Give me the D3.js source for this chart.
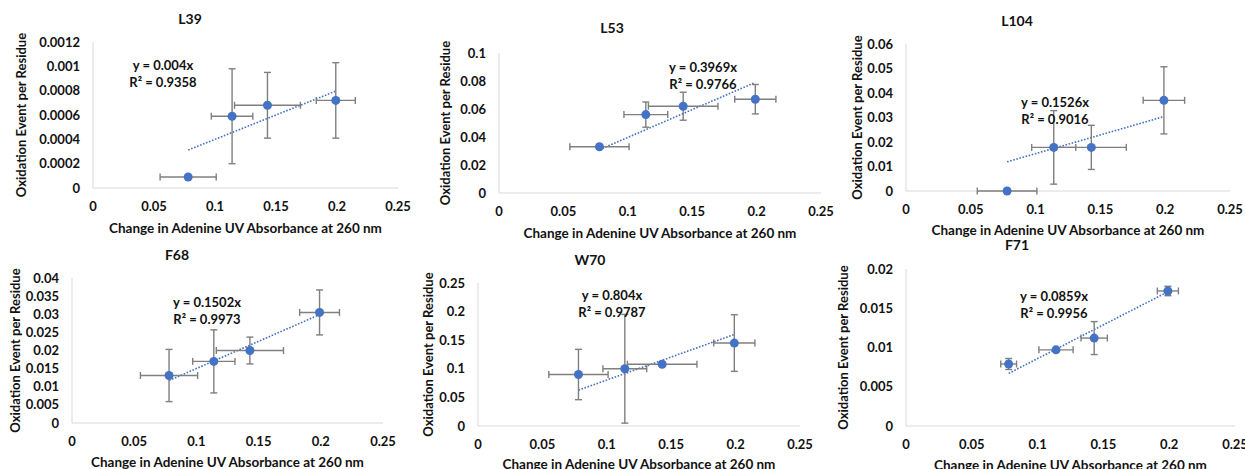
<!DOCTYPE html>
<html>
<head>
<meta charset="utf-8">
<script src="https://cdn.jsdelivr.net/npm/d3@7"></script>
<style>
  body { margin: 0; background: #fff; }
  svg text { font-family: Lato, "Open Sans", sans-serif; font-weight: bold; fill: #111; }
</style>
</head>
<body>
<svg id="chart" width="1245" height="469"></svg>
<script>
// shared x data (adenine UV absorbance change)
const xVals = [0.078, 0.114, 0.143, 0.199];
const xErr = [0.023, 0.017, 0.027, 0.016];
const xErrF71 = [0.006, 0.013, 0.010, 0.008];
const xTicks = [0, 0.05, 0.1, 0.15, 0.2, 0.25];

const titles = ['L39', 'L53', 'L104', 'F68', 'W70', 'F71'];

const yL39 = [0.00009, 0.00059, 0.00068, 0.00072];
const eL39 = [0, 0.00039, 0.00027, 0.00031];
const yL53 = [0.033, 0.056, 0.062, 0.067];
const eL53 = [0.001, 0.009, 0.010, 0.0105];
const yL104 = [0, 0.0178, 0.0178, 0.037];
const eL104 = [0, 0.015, 0.009, 0.0137];
const yF68 = [0.0131, 0.0170, 0.0200, 0.0305];
const eF68 = [0.0072, 0.0087, 0.0037, 0.0062];
const yW70 = [0.090, 0.100, 0.108, 0.145];
const eW70 = [0.044, 0.095, 0.003, 0.0495];
const yF71 = [0.0079, 0.0097, 0.0112, 0.0172];
const eF71 = [0.0007, 0.0002, 0.0021, 0.0006];

const slopes = [0.004, 0.3969, 0.1526, 0.1502, 0.804, 0.0859];
const r2Vals = ['0.9358', '0.9766', '0.9016', '0.9973', '0.9787', '0.9956'];
const yMaxes = [0.0012, 0.1, 0.06, 0.04, 0.25, 0.02];
const ySteps = [0.0002, 0.02, 0.01, 0.005, 0.05, 0.005];

const ySeries = [yL39, yL53, yL104, yF68, yW70, yF71];
const yErrs = [eL39, eL53, eL104, eF68, eW70, eF71];
const xErrs = [xErr, xErr, xErr, xErr, xErr, xErrF71];

// layout of each panel on the page
const layout = [
  { l: 93,  r: 398,  t: 42,  b: 188, tx: 190,  ty: 19,  ex: 163,  ey: 65,  xt: 228, yt: 21 },
  { l: 499, r: 821,  t: 53,  b: 193, tx: 612,  ty: 28,  ex: 703,  ey: 67,  xt: 233, yt: 445 },
  { l: 906, r: 1230, t: 44,  b: 191, tx: 1017, ty: 21,  ex: 1055, ey: 102, xt: 230, yt: 857 },
  { l: 72,  r: 383,  t: 278, b: 423, tx: 177,  ty: 255, ex: 207,  ey: 302, xt: 462, yt: 15 },
  { l: 478, r: 800,  t: 283, b: 426, tx: 590,  ty: 260, ex: 612,  ey: 295, xt: 464, yt: 428 },
  { l: 906, r: 1235, t: 269, b: 426, tx: 1017, ty: 245, ex: 1054, ey: 296, xt: 465, yt: 843 }
];

const blue = '#4472C4';
const errColor = '#7f7f7f';
const svg = d3.select('#chart');

function fmt(v) {
  return String(+v.toPrecision(6));
}

function drawPanel(i) {
  var p = layout[i];
  var g = svg.append('g');

  var x = d3.scaleLinear().domain([0, 0.25]).range([p.l, p.r]);
  var y = d3.scaleLinear().domain([0, yMaxes[i]]).range([p.b, p.t]);
  var yTicks = d3.range(0, yMaxes[i] + ySteps[i] / 2, ySteps[i]);

  // axes lines
  g.append('line')
    .attr('x1', p.l).attr('x2', p.l).attr('y1', p.t).attr('y2', p.b)
    .attr('stroke', '#d9d9d9').attr('stroke-width', 1);
  g.append('line')
    .attr('x1', p.l).attr('x2', p.r).attr('y1', p.b).attr('y2', p.b)
    .attr('stroke', '#d9d9d9').attr('stroke-width', 1);

  // tick labels
  g.selectAll('.xt')
    .data(xTicks)
    .enter()
    .append('text')
    .attr('x', d => x(d))
    .attr('y', p.b + 18)
    .attr('dy', '0.35em')
    .attr('text-anchor', 'middle')
    .attr('font-size', 13)
    .text(d => fmt(d));

  g.selectAll('.yt')
    .data(yTicks)
    .enter()
    .append('text')
    .attr('x', p.l - 13)
    .attr('y', d => y(d))
    .attr('dy', '0.35em')
    .attr('text-anchor', 'end')
    .attr('font-size', 13)
    .text(d => fmt(d));

  // titles
  g.append('text')
    .attr('x', p.tx).attr('y', p.ty).attr('dy', '0.35em')
    .attr('text-anchor', 'middle').attr('font-size', 14)
    .text(titles[i]);

  g.append('text')
    .attr('x', (p.l + p.r) / 2).attr('y', p.xt).attr('dy', '0.35em')
    .attr('text-anchor', 'middle').attr('font-size', 13.5)
    .text('Change in Adenine UV Absorbance at 260 nm');

  g.append('text')
    .attr('transform', `translate(${p.yt},${(p.t + p.b) / 2}) rotate(-90)`)
    .attr('dy', '0.35em')
    .attr('text-anchor', 'middle').attr('font-size', 13)
    .text('Oxidation Event per Residue');

  var pts = xVals.map((xv, k) => ({ x: xv, y: ySeries[i][k], ex: xErrs[i][k], ey: yErrs[i][k] }));

  // trendline through origin
  var x0 = d3.min(xVals), x1 = d3.max(xVals);
  g.append('line')
    .attr('x1', x(x0)).attr('y1', y(slopes[i] * x0))
    .attr('x2', x(x1)).attr('y2', y(slopes[i] * x1))
    .attr('stroke', blue).attr('stroke-width', 1.6)
    .attr('stroke-dasharray', '1.6,1.6');

  // error bars
  var cap = 3.5;
  var eb = g.selectAll('.eb').data(pts).enter().append('g')
    .attr('stroke', errColor).attr('stroke-width', 1.4);

  eb.filter(d => d.ey > 0).each(function(d) {
    var s = d3.select(this);
    s.append('line').attr('x1', x(d.x)).attr('x2', x(d.x)).attr('y1', y(d.y - d.ey)).attr('y2', y(d.y + d.ey));
    s.append('line').attr('x1', x(d.x) - cap).attr('x2', x(d.x) + cap).attr('y1', y(d.y - d.ey)).attr('y2', y(d.y - d.ey));
    s.append('line').attr('x1', x(d.x) - cap).attr('x2', x(d.x) + cap).attr('y1', y(d.y + d.ey)).attr('y2', y(d.y + d.ey));
  });

  eb.each(function(d) {
    var s = d3.select(this);
    s.append('line').attr('x1', x(d.x - d.ex)).attr('x2', x(d.x + d.ex)).attr('y1', y(d.y)).attr('y2', y(d.y));
    s.append('line').attr('x1', x(d.x - d.ex)).attr('x2', x(d.x - d.ex)).attr('y1', y(d.y) - cap).attr('y2', y(d.y) + cap);
    s.append('line').attr('x1', x(d.x + d.ex)).attr('x2', x(d.x + d.ex)).attr('y1', y(d.y) - cap).attr('y2', y(d.y) + cap);
  });

  // markers
  g.selectAll('.pt').data(pts).enter().append('circle')
    .attr('cx', d => x(d.x)).attr('cy', d => y(d.y))
    .attr('r', 4.5).attr('fill', blue);

  // equation label
  g.append('text')
    .attr('x', p.ex).attr('y', p.ey).attr('dy', '0.35em')
    .attr('text-anchor', 'middle').attr('font-size', 13)
    .text(`y = ${slopes[i]}x`);
  g.append('text')
    .attr('x', p.ex).attr('y', p.ey + 17).attr('dy', '0.35em')
    .attr('text-anchor', 'middle').attr('font-size', 13)
    .text(`R² = ${r2Vals[i]}`);
}

titles.forEach((t, i) => drawPanel(i));
</script>
</body>
</html>
